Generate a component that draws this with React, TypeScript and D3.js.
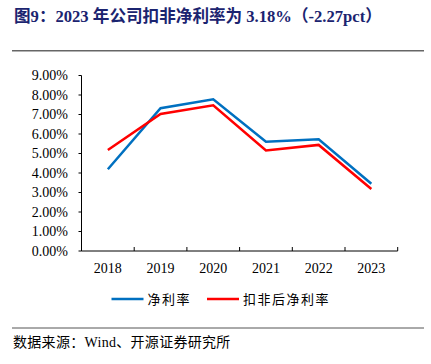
import React from "react";
import * as d3 from "d3";

const years = ["2018", "2019", "2020", "2021", "2022", "2023"];
const netMargin = [4.19, 7.32, 7.78, 5.6, 5.73, 3.45];
const deductedMargin = [5.18, 7.03, 7.47, 5.16, 5.44, 3.18];
const yTicks = [0, 1, 2, 3, 4, 5, 6, 7, 8, 9];
const seriesNames = ["净利率", "扣非后净利率"];
const seriesColors = ["#0070C0", "#FF0000"];

const W = 431;
const H = 364;
const left = 81.5;
const right = 397.7;
const top = 75.5;
const bottom = 251;

export default function App() {
  const x = d3.scaleBand<string>().domain(years).range([left, right]);
  const y = d3.scaleLinear().domain([0, 9]).range([bottom, top]);
  const line = d3
    .line<number>()
    .x((_, i) => (x(years[i]) as number) + x.bandwidth() / 2)
    .y((d) => y(d));
  const serif = "'Liberation Serif', 'Noto Sans CJK SC', serif";
  const cjk = "'Liberation Serif', 'Noto Sans CJK SC', sans-serif";
  const series = [netMargin, deductedMargin];
  const legendX = [111.5, 207];
  return (
    <svg
      width={W}
      height={H}
      style={{ position: "absolute", left: 0, top: 0, background: "#fff" }}
    >
      <text
        x={14}
        y={21.5}
        fontFamily={cjk}
        fontWeight="bold"
        fontSize={16.6}
        fill="#1B2470"
      >
        图9：2023 年公司扣非净利率为 3.18%（-2.27pct）
      </text>
      <line x1={12} x2={424} y1={50.7} y2={50.7} stroke="#666" strokeWidth={1.5} />
      <line x1={12} x2={424} y1={328} y2={328} stroke="#555" strokeWidth={1} />
      {/* y axis */}
      <line x1={left} x2={left} y1={top} y2={bottom} stroke="#000" strokeWidth={1} />
      {yTicks.map((t) => (
        <g key={t}>
          <line x1={left - 3} x2={left} y1={y(t)} y2={y(t)} stroke="#000" />
          <text
            x={68}
            y={y(t)}
            dy="0.35em"
            textAnchor="end"
            fontFamily={serif}
            fontSize={14}
            fill="#000"
          >
            {t.toFixed(2)}%
          </text>
        </g>
      ))}
      {/* x axis */}
      <line x1={left} x2={right} y1={bottom} y2={bottom} stroke="#000" strokeWidth={1} />
      {years.map((yr, i) => (
        <g key={yr}>
          <line
            x1={(x(yr) as number) + x.bandwidth()}
            x2={(x(yr) as number) + x.bandwidth()}
            y1={bottom}
            y2={bottom - 4}
            stroke="#000"
          />
          <text
            x={(x(yr) as number) + x.bandwidth() / 2}
            y={268}
            dy="0.35em"
            textAnchor="middle"
            fontFamily={serif}
            fontSize={14}
            fill="#000"
          >
            {yr}
          </text>
        </g>
      ))}
      {series.map((s, i) => (
        <path
          key={i}
          d={line(s) || ""}
          fill="none"
          stroke={seriesColors[i]}
          strokeWidth={2.5}
          strokeLinejoin="miter"
        />
      ))}
      {seriesNames.map((n, i) => (
        <g key={n}>
          <line
            x1={legendX[i]}
            x2={legendX[i] + 32}
            y1={299}
            y2={299}
            stroke={seriesColors[i]}
            strokeWidth={2.5}
          />
          <text
            x={legendX[i] + 36}
            y={299}
            dy="0.35em"
            fontFamily={cjk}
            fontSize={13}
            fill="#000"
            letterSpacing={1.5}
          >
            {n}
          </text>
        </g>
      ))}
      <text
        x={13}
        y={342}
        dy="0.35em"
        fontFamily={cjk}
        fontSize={14}
        fill="#000"
        letterSpacing={0.3}
      >
        数据来源：Wind、开源证券研究所
      </text>
    </svg>
  );
}
